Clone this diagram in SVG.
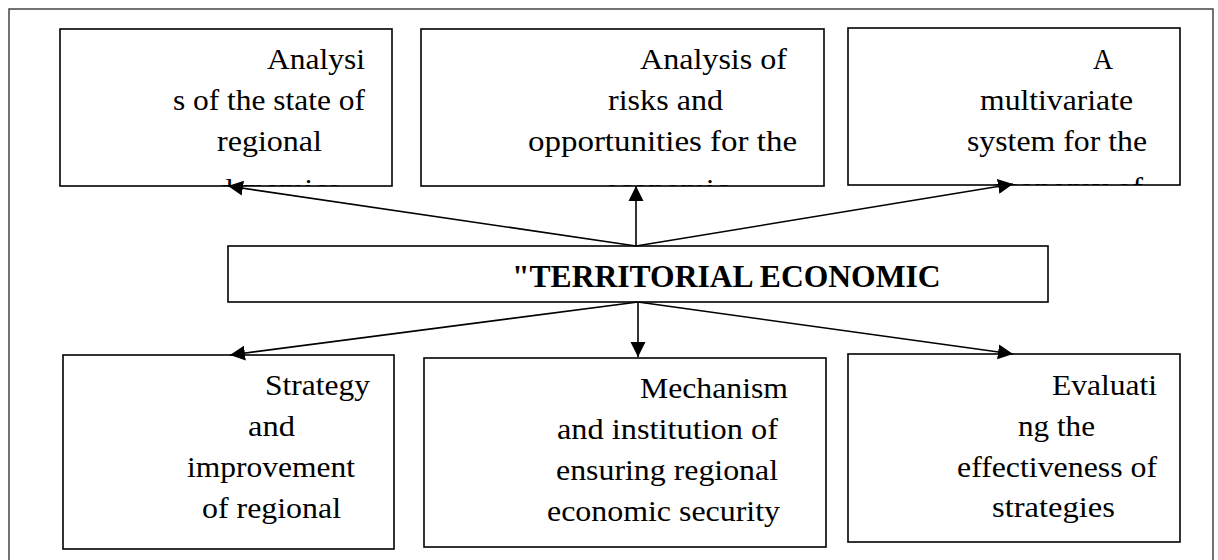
<svg xmlns="http://www.w3.org/2000/svg" width="1218" height="560" viewBox="0 0 1218 560">
<style>
.box{fill:#fff;stroke:#000;stroke-width:1.6}
.t{font-family:"Liberation Serif","Times New Roman",serif;font-size:30px;fill:#000}
.b{font-family:"Liberation Serif","Times New Roman",serif;font-size:31.6px;font-weight:bold;fill:#000}
.c{stroke:#000;stroke-width:1.6;fill:none;marker-end:url(#ah)}
</style>
<defs>
<marker id="ah" markerUnits="userSpaceOnUse" markerWidth="16" markerHeight="16" viewBox="0 0 16 16" refX="15" refY="8" orient="auto">
<path d="M0,0.5 L15,8 L0,15.5 Z" fill="#000"/>
</marker>
<clipPath id="c1"><rect x="60" y="29" width="332" height="157"/></clipPath>
<clipPath id="c2"><rect x="421" y="29" width="403" height="157"/></clipPath>
<clipPath id="c3"><rect x="848" y="28" width="332" height="157"/></clipPath>
</defs>
<rect x="9" y="9" width="1204" height="560" fill="none" stroke="#444" stroke-width="1.5"/>
<g id="node-analysis-state">
<rect class="box" x="60" y="29" width="332" height="157"/>
<g clip-path="url(#c1)">
<text class="t" x="267" y="69" textLength="98" lengthAdjust="spacingAndGlyphs">Analysi</text>
<text class="t" x="173" y="110" textLength="192" lengthAdjust="spacingAndGlyphs">s of the state of</text>
<text class="t" x="217" y="151" textLength="105" lengthAdjust="spacingAndGlyphs">regional</text>
<text class="t" x="217" y="199" textLength="123" lengthAdjust="spacingAndGlyphs">dynamics</text>
</g>
</g>
<g id="node-analysis-risks">
<rect class="box" x="421" y="29" width="403" height="157"/>
<g clip-path="url(#c2)">
<text class="t" x="640" y="69" textLength="147" lengthAdjust="spacingAndGlyphs">Analysis of</text>
<text class="t" x="608" y="110" textLength="115" lengthAdjust="spacingAndGlyphs">risks and</text>
<text class="t" x="528" y="151" textLength="269" lengthAdjust="spacingAndGlyphs">opportunities for the</text>
<text class="t" x="604" y="199" textLength="125" lengthAdjust="spacingAndGlyphs">economic</text>
</g>
</g>
<g id="node-multivariate">
<rect class="box" x="848" y="28" width="332" height="157"/>
<g clip-path="url(#c3)">
<text class="t" x="1093" y="69" textLength="20" lengthAdjust="spacingAndGlyphs">A</text>
<text class="t" x="980" y="110" textLength="153" lengthAdjust="spacingAndGlyphs">multivariate</text>
<text class="t" x="967" y="151" textLength="180" lengthAdjust="spacingAndGlyphs">system for the</text>
<text class="t" x="990" y="198" textLength="153" lengthAdjust="spacingAndGlyphs">economy of</text>
</g>
</g>
<g id="node-center">
<rect class="box" x="228" y="246" width="820" height="56"/>
<text class="b" x="512" y="287">"TERRITORIAL ECONOMIC</text>
</g>
<g id="node-strategy">
<rect class="box" x="63" y="355" width="331" height="194"/>
<text class="t" x="265" y="395" textLength="105" lengthAdjust="spacingAndGlyphs">Strategy</text>
<text class="t" x="248" y="436" textLength="47" lengthAdjust="spacingAndGlyphs">and</text>
<text class="t" x="187" y="477" textLength="168" lengthAdjust="spacingAndGlyphs">improvement</text>
<text class="t" x="202" y="518" textLength="139" lengthAdjust="spacingAndGlyphs">of regional</text>
</g>
<g id="node-mechanism">
<rect class="box" x="424" y="358" width="402" height="189"/>
<text class="t" x="640" y="398" textLength="148" lengthAdjust="spacingAndGlyphs">Mechanism</text>
<text class="t" x="557" y="439" textLength="221" lengthAdjust="spacingAndGlyphs">and institution of</text>
<text class="t" x="556" y="480" textLength="222" lengthAdjust="spacingAndGlyphs">ensuring regional</text>
<text class="t" x="547" y="521" textLength="233" lengthAdjust="spacingAndGlyphs">economic security</text>
</g>
<g id="node-evaluating">
<rect class="box" x="848" y="354" width="332" height="188"/>
<text class="t" x="1052" y="395" textLength="105" lengthAdjust="spacingAndGlyphs">Evaluati</text>
<text class="t" x="1018" y="436" textLength="77" lengthAdjust="spacingAndGlyphs">ng the</text>
<text class="t" x="957" y="477" textLength="200" lengthAdjust="spacingAndGlyphs">effectiveness of</text>
<text class="t" x="992" y="517" textLength="123" lengthAdjust="spacingAndGlyphs">strategies</text>
</g>
<g id="connectors">
<line class="c" x1="636" y1="246" x2="228" y2="186"/>
<line class="c" x1="636" y1="246" x2="636" y2="186"/>
<line class="c" x1="636" y1="246" x2="1013" y2="184"/>
<line class="c" x1="638" y1="302" x2="230" y2="355"/>
<line class="c" x1="638" y1="302" x2="638" y2="357"/>
<line class="c" x1="638" y1="302" x2="1013" y2="354"/>
</g>
</svg>
